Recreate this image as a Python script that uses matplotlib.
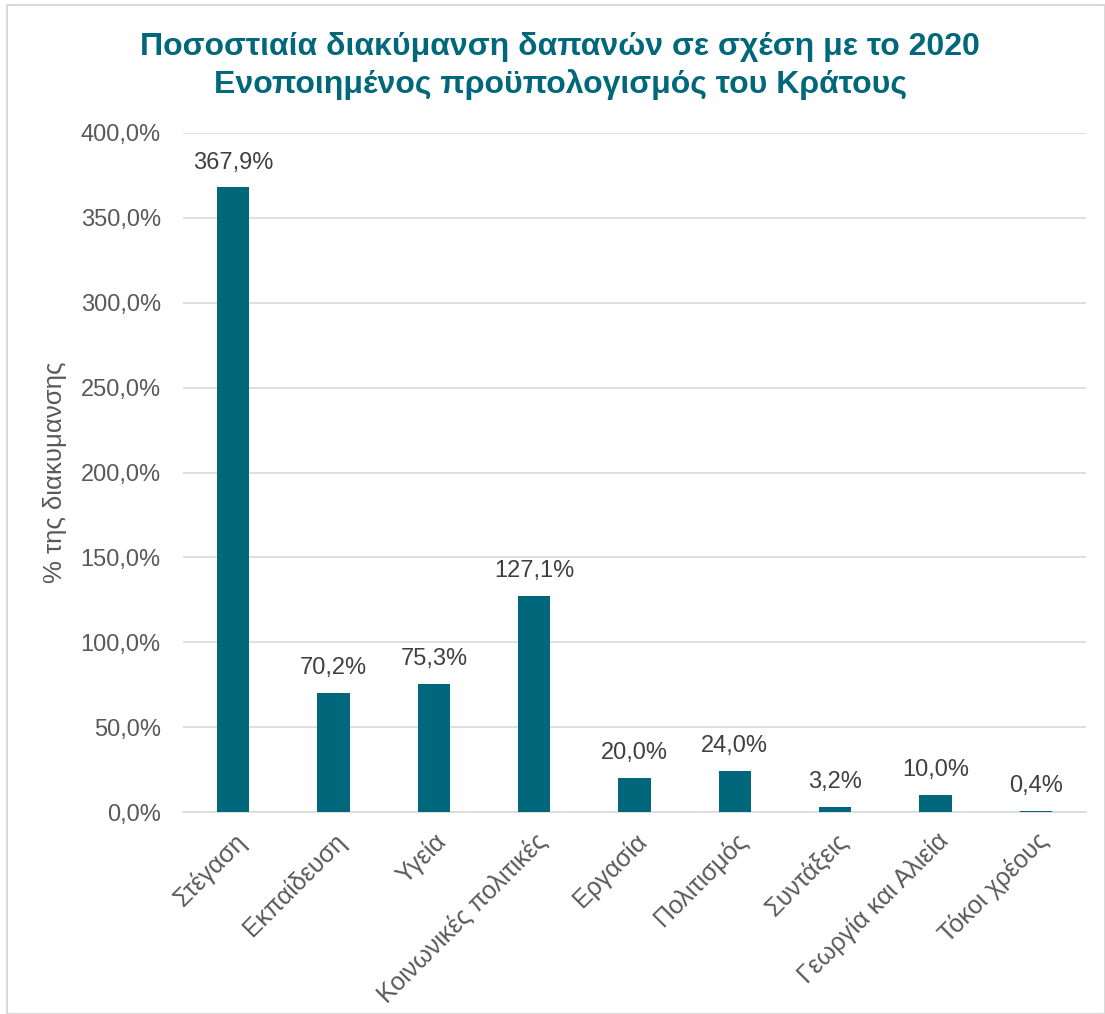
import matplotlib
matplotlib.use("Agg")
import matplotlib.pyplot as plt
from matplotlib.patches import Rectangle
from matplotlib.ticker import FuncFormatter

categories = ["Στέγαση", "Εκπαίδευση", "Υγεία", "Κοινωνικές πολιτικές", "Εργασία",
              "Πολιτισμός", "Συντάξεις", "Γεωργία και Αλιεία", "Τόκοι χρέους"]
values = [367.9, 70.2, 75.3, 127.1, 20.0, 24.0, 3.2, 10.0, 0.4]
yticks = [0, 50, 100, 150, 200, 250, 300, 350, 400]
title = "Ποσοστιαία διακύμανση δαπανών σε σχέση με το 2020\nΕνοποιημένος προϋπολογισμός του Κράτους"
ylabel = "% της διακυμανσης"

plt.rcParams['font.family'] = ['Liberation Sans', 'DejaVu Sans']

W, H = 1105, 1014
fig = plt.figure(figsize=(W / 100, H / 100), dpi=100)
fig.patch.set_facecolor("white")
fig.patches.append(Rectangle((7 / W, 0.0), (W - 7) / W, 1 - 5 / H,
                             transform=fig.transFigure, fill=False,
                             edgecolor="#D9D9D9", linewidth=1.5))

ax = fig.add_axes([183 / W, 1 - 812 / H, (1086 - 183) / W, (812 - 133) / H])
bar_color = "#00687A"
x = list(range(len(categories)))
ax.bar(x, values, width=0.32, color=bar_color, zorder=3)

ax.set_xlim(-0.5, len(categories) - 0.5)
ax.set_ylim(0, 400)
ax.set_yticks(yticks)
ax.yaxis.set_major_formatter(FuncFormatter(lambda v, p: f"{v:.1f}%".replace(".", ",")))
ax.grid(axis="y", color="#D9D9D9", linewidth=1.2, zorder=0)
for s in ["top", "right", "left"]:
    ax.spines[s].set_visible(False)
ax.spines["bottom"].set_color("#D9D9D9")
ax.spines["bottom"].set_linewidth(1.2)
ax.tick_params(axis="both", length=0, labelsize=17, labelcolor="#595959")
ax.tick_params(axis="y", pad=16)
ax.set_xticks(x)
ax.set_xticklabels(categories, rotation=45, ha="right", rotation_mode="anchor")
ax.tick_params(axis="x", pad=12, labelsize=18)

for xi, v in zip(x, values):
    ax.annotate(f"{v:.1f}%".replace(".", ","), (xi, v), xytext=(0, 10),
                textcoords="offset points", ha="center", va="bottom",
                fontsize=17, color="#404040")

ax.set_ylabel(ylabel, fontsize=18.5, color="#595959", labelpad=10)

fig.text(560 / W, 1 - 66 / H, title, ha="center", va="center", fontsize=23,
         fontweight="bold", color="#00687A", linespacing=1.32)

fig.savefig("out.png", dpi=100, facecolor="white")
